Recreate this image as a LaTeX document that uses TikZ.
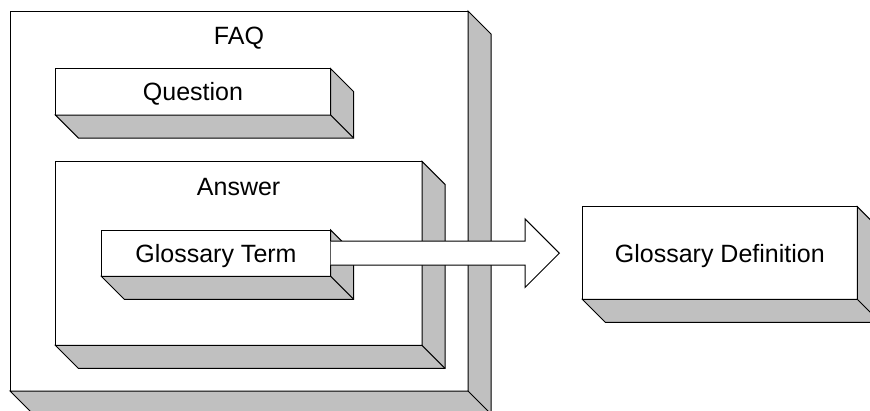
\documentclass[tikz,border=0pt]{standalone}
\usepackage{fontspec}
\setmainfont{Liberation Sans}
\usetikzlibrary{calc}
\definecolor{sidegray}{RGB}{192,192,192}
\newcommand\sidedepth{23}
\tikzset{
  face/.style={draw=black, fill=white, line width=1pt, inner sep=0pt, outer sep=0pt,
               text height=18pt, text depth=0pt,
               anchor=north west, font=\fontsize{25}{30}\selectfont},
  caption/.style={anchor=base, inner sep=0pt, font=\fontsize{25}{30}\selectfont},
  side/.style={draw=black, fill=sidegray, line width=1pt, line join=miter},
  link/.style={draw=black, fill=white, line width=1pt, line join=miter}
}
\begin{document}
\begin{tikzpicture}[x=1pt,y=-1pt]
\useasboundingbox (0,0) rectangle (870,410);
\clip (0,0) rectangle (870,410);

% extruded side faces of a box node
\def\sides#1{%
  \path[side] (#1.north east) -- ++(\sidedepth,\sidedepth)
    -- ($(#1.south east)+(\sidedepth,\sidedepth)$)
    -- ($(#1.south west)+(\sidedepth,\sidedepth)$)
    -- (#1.south west) -- (#1.south east) -- cycle;
  \draw[side] (#1.south east) -- ++(\sidedepth,\sidedepth);}

% FAQ container
\node[face, minimum width=458, minimum height=380] (faq) at (10,11) {};
\sides{faq}
\node[caption] (faqlabel) at ($(faq.north)+(0,33)$) {FAQ};

% Question
\node[face, minimum width=275.4, minimum height=46.3] (question) at (55.3,68.7) {Question};
\sides{question}

% Answer container
\node[face, minimum width=366.7, minimum height=184] (answer) at (55.3,161.3) {};
\sides{answer}
\node[caption] (answerlabel) at ($(answer.north)+(0,33.7)$) {Answer};

% Glossary term
\node[face, minimum width=229.4, minimum height=46.3] (gterm) at (101.3,230) {Glossary Term};
\sides{gterm}

% Glossary definition
\node[face, minimum width=275, minimum height=92.6] (gdef) at (582.3,206.7) {Glossary Definition};
\sides{gdef}

% Block arrow from term to definition
\coordinate (tip) at ($(gdef.west |- gterm.east)+(-23,0)$);
\draw[link] ($(gterm.east)+(0,-12)$) -- ($(tip)+(-34.3,-12)$) -- ++(0,-22.3)
  -- (tip) -- ($(tip)+(-34.3,34.3)$) -- ++(0,-22.3) -- ($(gterm.east)+(0,12)$);
\end{tikzpicture}
\end{document}
